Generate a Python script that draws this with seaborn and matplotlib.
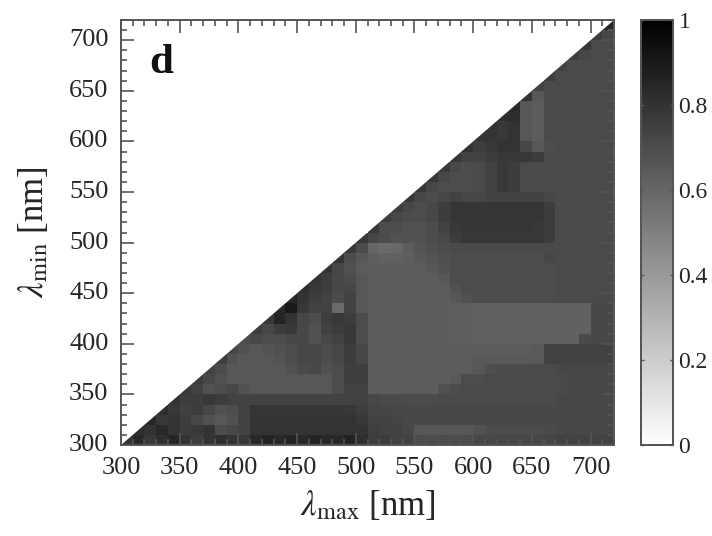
import numpy as np
import pandas as pd
import matplotlib
matplotlib.use("Agg")
import matplotlib.pyplot as plt
from matplotlib.patches import Polygon
from matplotlib.ticker import MultipleLocator
import seaborn as sns

# lower edge of each 10 nm cell
lambda_max = list(range(300, 720, 10))
lambda_min = list(range(300, 720, 10))
tick_nm = [300, 350, 400, 450, 500, 550, 600, 650, 700]
cbar_ticks = [0, 0.2, 0.4, 0.6, 0.8, 1]
cbar_labels = ["0", "0.2", "0.4", "0.6", "0.8", "1"]

# values in percent, one row per lambda_min, starting at the diagonal
rows = [
    [80, 84, 78, 82, 85, 80, 76, 80, 82, 80, 78, 84, 86, 84, 86, 84, 86, 84, 84, 86, 82, 76, 76, 74, 74, 70, 70, 70, 70, 70, 72, 72, 72, 72, 72, 72, 73, 74, 74, 74, 74, 74],
    [82, 80, 84, 80, 76, 78, 80, 70, 72, 74, 80, 80, 80, 80, 80, 80, 80, 80, 80, 80, 75, 74, 74, 72, 66, 66, 66, 66, 66, 68, 70, 70, 70, 70, 70, 71, 72, 72, 72, 72, 72],
    [84, 78, 80, 76, 72, 68, 66, 68, 74, 80, 80, 80, 80, 80, 80, 80, 80, 80, 78, 74, 74, 73, 72, 72, 72, 72, 72, 72, 72, 72, 72, 72, 72, 72, 72, 72, 72, 72, 72, 72],
    [82, 78, 74, 76, 72, 68, 70, 74, 79, 79, 79, 79, 79, 79, 79, 79, 78, 76, 73, 73, 72, 72, 72, 72, 72, 72, 72, 72, 72, 72, 72, 72, 72, 72, 72, 72, 72, 72, 72],
    [80, 76, 76, 78, 76, 74, 74, 74, 74, 74, 74, 74, 74, 74, 74, 74, 74, 72, 71, 71, 70, 70, 70, 71, 71, 71, 71, 71, 71, 71, 71, 71, 71, 72, 72, 72, 72, 72],
    [78, 74, 68, 70, 72, 68, 66, 66, 66, 66, 66, 66, 66, 70, 74, 74, 64, 64, 64, 64, 64, 64, 68, 70, 71, 71, 71, 71, 71, 71, 71, 71, 71, 72, 72, 72, 72],
    [76, 72, 68, 66, 66, 66, 66, 66, 66, 66, 66, 66, 70, 75, 75, 64, 64, 64, 64, 64, 64, 64, 65, 70, 70, 71, 71, 71, 71, 71, 71, 71, 72, 72, 72, 72],
    [74, 70, 66, 66, 66, 66, 66, 68, 71, 72, 68, 70, 75, 75, 64, 64, 64, 64, 64, 64, 64, 64, 64, 66, 69, 70, 70, 70, 71, 71, 72, 72, 72, 72, 72],
    [76, 68, 66, 66, 66, 67, 70, 72, 72, 70, 72, 76, 72, 64, 64, 64, 64, 64, 64, 64, 64, 64, 65, 65, 65, 65, 65, 65, 74, 74, 74, 74, 74, 74],
    [72, 68, 66, 67, 68, 70, 72, 72, 70, 72, 76, 72, 64, 64, 64, 64, 64, 64, 64, 64, 64, 64, 64, 64, 64, 64, 65, 74, 74, 74, 74, 74, 74],
    [70, 72, 70, 70, 72, 72, 68, 72, 74, 78, 70, 64, 64, 64, 64, 64, 64, 64, 63, 63, 62, 62, 62, 62, 62, 62, 62, 62, 62, 71, 72, 72],
    [76, 72, 76, 78, 72, 68, 74, 76, 78, 70, 64, 64, 64, 64, 64, 64, 64, 63, 63, 62, 62, 62, 62, 62, 62, 62, 62, 62, 62, 72, 72],
    [78, 86, 80, 72, 70, 76, 78, 76, 70, 64, 64, 64, 64, 64, 64, 64, 63, 63, 62, 62, 62, 62, 62, 62, 62, 62, 62, 62, 72, 72],
    [84, 90, 78, 74, 74, 58, 74, 66, 64, 64, 64, 64, 64, 64, 64, 63, 63, 62, 62, 62, 62, 62, 62, 62, 62, 62, 62, 72, 72],
    [84, 80, 76, 74, 70, 74, 66, 64, 64, 64, 64, 64, 64, 64, 66, 68, 70, 70, 70, 70, 70, 70, 70, 71, 71, 71, 71, 71],
    [82, 78, 76, 72, 72, 66, 64, 64, 64, 64, 64, 64, 64, 68, 70, 70, 70, 70, 70, 70, 70, 70, 71, 71, 71, 71, 71],
    [80, 76, 72, 70, 66, 64, 64, 64, 64, 64, 64, 66, 70, 70, 70, 70, 70, 70, 70, 70, 70, 71, 71, 71, 71, 71],
    [80, 72, 68, 64, 64, 64, 64, 64, 64, 66, 68, 70, 70, 70, 70, 70, 70, 70, 70, 70, 71, 71, 71, 71, 71],
    [80, 70, 66, 63, 62, 62, 63, 66, 67, 69, 70, 70, 70, 70, 70, 70, 70, 70, 72, 71, 71, 71, 71, 71],
    [78, 70, 60, 58, 59, 64, 67, 69, 70, 71, 71, 71, 71, 71, 71, 71, 71, 71, 71, 71, 71, 71, 71],
    [78, 72, 70, 68, 68, 68, 70, 72, 76, 78, 78, 78, 78, 78, 78, 78, 76, 71, 71, 71, 71, 71],
    [78, 70, 70, 68, 68, 70, 74, 78, 79, 79, 79, 79, 79, 79, 78, 76, 71, 71, 71, 71, 71],
    [76, 72, 70, 70, 72, 76, 79, 79, 79, 79, 79, 79, 79, 79, 76, 71, 71, 71, 71, 71],
    [76, 72, 70, 72, 76, 79, 79, 79, 79, 79, 79, 79, 79, 76, 71, 71, 71, 71, 71],
    [78, 72, 70, 72, 74, 72, 72, 74, 74, 74, 74, 74, 72, 71, 71, 71, 71, 71],
    [78, 72, 70, 70, 70, 71, 74, 78, 76, 71, 71, 71, 71, 71, 71, 71, 71],
    [78, 72, 70, 70, 71, 74, 78, 76, 71, 71, 71, 71, 71, 71, 71, 71],
    [78, 72, 70, 71, 74, 78, 76, 71, 71, 71, 71, 71, 71, 71, 71],
    [78, 74, 74, 76, 78, 78, 78, 76, 71, 71, 71, 71, 71, 71],
    [80, 76, 78, 80, 80, 72, 66, 70, 71, 71, 71, 71, 71],
    [80, 80, 78, 80, 66, 64, 71, 71, 71, 71, 71, 71],
    [80, 78, 80, 66, 64, 71, 71, 71, 71, 71, 71],
    [82, 82, 66, 64, 71, 71, 71, 71, 71, 71],
    [84, 66, 64, 71, 71, 71, 71, 71, 71],
    [80, 66, 71, 71, 71, 71, 71, 71],
    [74, 71, 71, 71, 71, 71, 71],
    [76, 71, 71, 71, 71, 71],
    [74, 71, 71, 71, 71],
    [76, 72, 71, 71],
    [78, 71, 71],
    [76, 72],
    [84],
]

plt.rcParams['font.family'] = ['Liberation Serif', 'DejaVu Serif']
plt.rcParams['mathtext.fontset'] = 'stix'
text_col = '#262626'
line_col = '#555555'

# right aligned, the part above the diagonal stays empty
grid = [[np.nan] * (len(lambda_max) - len(r)) + r for r in rows[:len(lambda_min)]]
df = pd.DataFrame(grid, index=lambda_min, columns=lambda_max) / 100

fig = plt.figure(figsize=(7.12, 5.36), dpi=100)
W, H = 712, 536
ax = fig.add_axes([121 / W, 1 - 445 / H, 493 / W, 425 / H])
cax = fig.add_axes([641 / W, 1 - 445 / H, 32 / W, 425 / H])

sns.heatmap(df, ax=ax, cbar_ax=cax, cmap='gray_r', vmin=0, vmax=1,
            cbar_kws={'ticks': cbar_ticks})
ax.invert_yaxis()

# clean diagonal edge instead of a staircase
n = len(lambda_max)
tri = Polygon([(0, 0), (n, 0), (n, n)], transform=ax.transData)
ax.collections[0].set_clip_path(tri)

pos = [(t - lambda_max[0]) / 10 for t in tick_nm]
ax.set_xticks(pos)
ax.set_xticklabels(tick_nm, rotation=0, fontsize=19, color=text_col)
ax.set_yticks(pos)
ax.set_yticklabels(tick_nm, rotation=0, fontsize=19, color=text_col)
ax.xaxis.set_minor_locator(MultipleLocator(1))
ax.yaxis.set_minor_locator(MultipleLocator(1))
ax.tick_params(which='major', direction='in', length=9, width=1.2, color=line_col,
               top=True, right=True)
ax.tick_params(axis='x', which='major', pad=9)
ax.tick_params(axis='y', which='major', pad=9)
ax.tick_params(which='minor', direction='in', length=4.5, width=1.2, color=line_col,
               top=True, right=True)
for s in ax.spines.values():
    s.set_visible(True)
    s.set_color(line_col)
    s.set_linewidth(1.4)
ax.set_axisbelow(False)

ax.set_xlabel(r'$\lambda_{\mathrm{max}}$ [nm]', fontsize=25, color=text_col, labelpad=7)
ax.set_ylabel(r'$\lambda_{\mathrm{min}}$ [nm]', fontsize=25, color=text_col, labelpad=13)
ax.text(0.057, 0.875, 'd', transform=ax.transAxes, fontsize=31, fontweight='bold',
        color='#111111', ha='left', va='baseline')

cax.set_yticklabels(cbar_labels, fontsize=17, color=text_col)
cax.tick_params(direction='in', length=2.5, width=1, color=line_col, pad=4, left=True, right=True)
for s in cax.spines.values():
    s.set_visible(True)
    s.set_color(line_col)
    s.set_linewidth(1.4)

fig.savefig('out.png', dpi=100)
